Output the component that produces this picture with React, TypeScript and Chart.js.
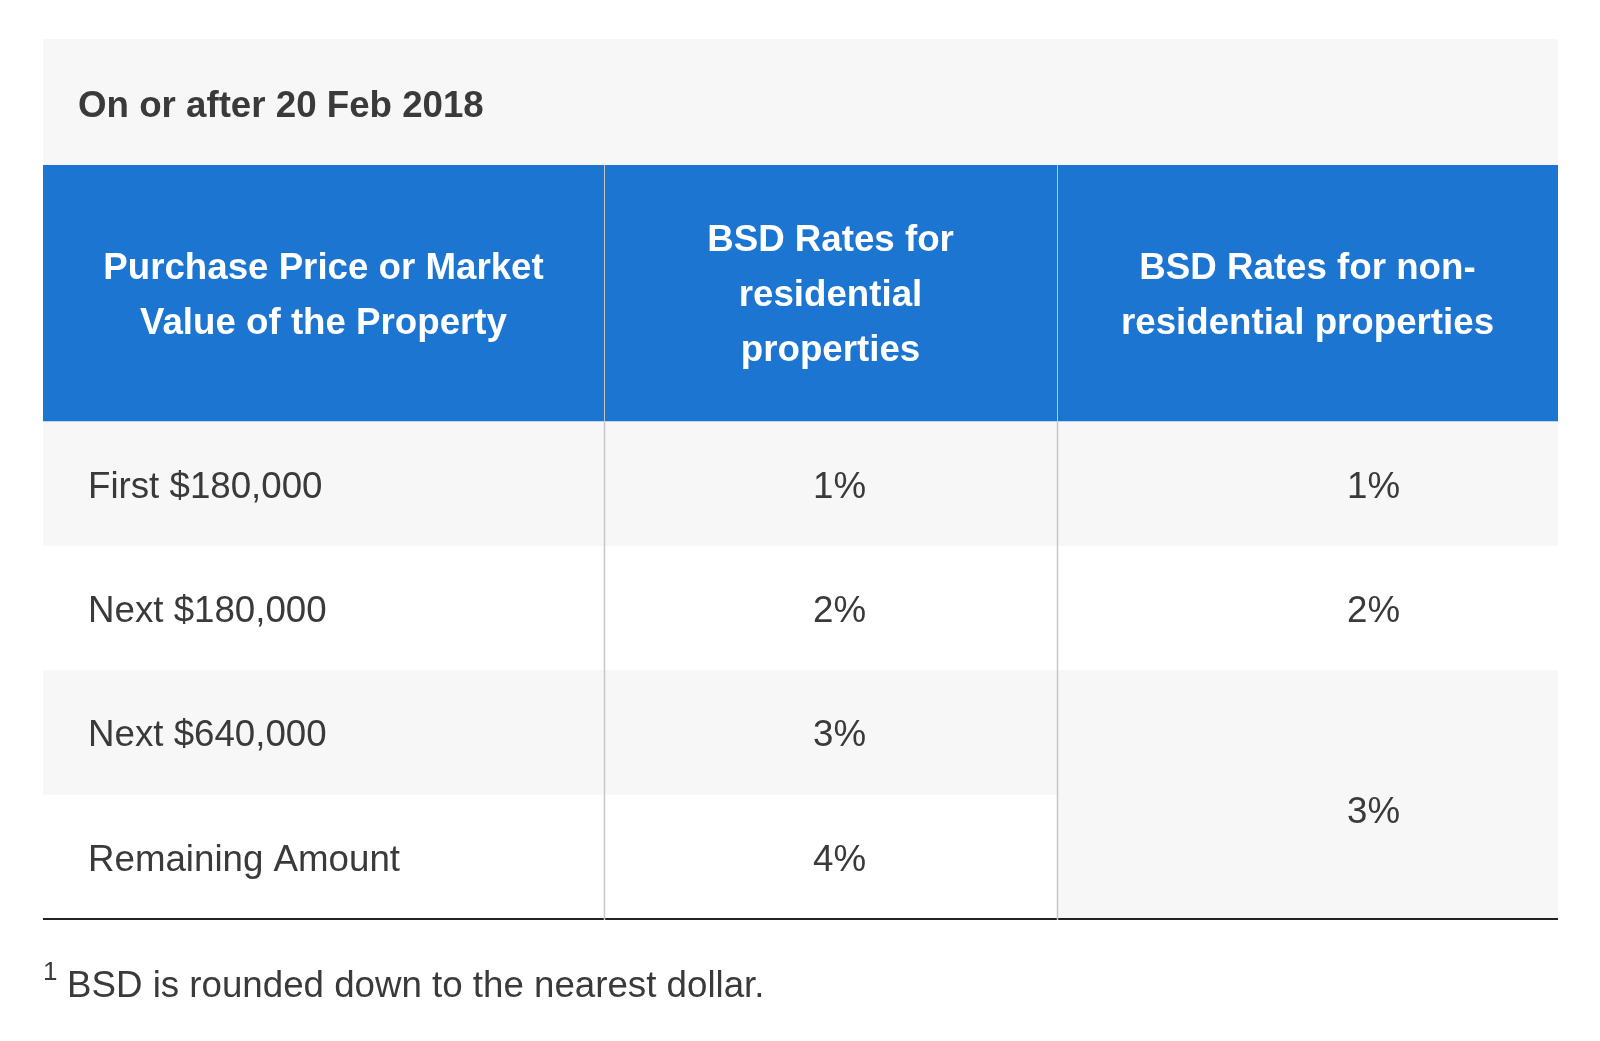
import React, { useEffect, useRef } from "react";
import { Chart, registerables } from "chart.js";

Chart.register(...registerables);

// ---- data ----
const title = "On or after 20 Feb 2018";
const headerCol1 = ["Purchase Price or Market", "Value of the Property"];
const headerCol2 = ["BSD Rates for", "residential", "properties"];
const headerCol3 = ["BSD Rates for non-", "residential properties"];
const bands = ["First $180,000", "Next $180,000", "Next $640,000", "Remaining Amount"];
const residentialRates = ["1%", "2%", "3%", "4%"];
const nonResidentialRates = ["1%", "2%", "3%"];
const nonResidentialSpans = [1, 1, 2];
const footnoteMark = "1";
const footnoteText = "BSD is rounded down to the nearest dollar.";

const FONT = '"Liberation Sans", Arial, Helvetica, sans-serif';
const FS = 36.7;
const TEXT = "#3a3a3a";
const BLUE = "#1c75d0";
const ROW_ALT = "#f7f7f7";

// column edges in table units (x scale)
const colEdges = [0, 561, 1014, 1515];

const tablePlugin = {
  id: "bsdTable",
  afterDraw(chart: any) {
    const ctx: CanvasRenderingContext2D = chart.ctx;
    const x = chart.scales.x;
    const y = chart.scales.y;
    const area = chart.chartArea;
    const L = x.getPixelForValue(colEdges[0]);
    const R = x.getPixelForValue(colEdges[3]);
    const c1 = x.getPixelForValue(colEdges[1]);
    const c2 = x.getPixelForValue(colEdges[2]);
    const band = (area.bottom - area.top) / bands.length;
    const panelTop = 39;
    const headTop = 165;
    const headBot = area.top;

    ctx.save();
    // panel
    ctx.fillStyle = ROW_ALT;
    ctx.fillRect(L, panelTop, R - L, area.bottom - panelTop);

    // title
    ctx.fillStyle = "#3a3a3a";
    ctx.font = `bold ${FS}px ${FONT}`;
    ctx.textAlign = "left";
    ctx.textBaseline = "alphabetic";
    ctx.fillText(title, L + 35, 117);

    // header
    ctx.fillStyle = BLUE;
    ctx.fillRect(L, headTop, R - L, headBot - headTop);
    ctx.fillStyle = "#ffffff";
    ctx.font = `bold ${FS}px ${FONT}`;
    ctx.textAlign = "center";
    const headMid = (headTop + headBot) / 2;
    const lh = 55;
    const drawHead = (lines: string[], cx: number) => {
      const start = headMid - ((lines.length - 1) * lh) / 2;
      lines.forEach((t, i) => ctx.fillText(t, cx, start + i * lh + 13));
    };
    drawHead(headerCol1, (L + c1) / 2);
    drawHead(headerCol2, (c1 + c2) / 2);
    drawHead(headerCol3, (c2 + R) / 2);

    // header dividers
    ctx.strokeStyle = "rgba(215,205,195,0.9)";
    ctx.lineWidth = 1;
    [c1, c2].forEach((cx) => {
      ctx.beginPath();
      ctx.moveTo(Math.round(cx) + 0.5, headTop);
      ctx.lineTo(Math.round(cx) + 0.5, headBot);
      ctx.stroke();
    });

    // body rows
    bands.forEach((label, i) => {
      const cy = y.getPixelForValue(i);
      const top = cy - band / 2;
      ctx.fillStyle = i % 2 === 0 ? ROW_ALT : "#ffffff";
      ctx.fillRect(L, top, c2 - L, band);
      ctx.fillStyle = TEXT;
      ctx.font = `${FS}px ${FONT}`;
      ctx.textAlign = "left";
      ctx.fillText(label, L + 45, cy + 14);
      ctx.textAlign = "center";
      ctx.fillText(residentialRates[i], (c1 + c2) / 2 + 9, cy + 14);
    });

    // non-residential column with row spans
    let r = 0;
    nonResidentialRates.forEach((val, k) => {
      const span = nonResidentialSpans[k];
      const top = y.getPixelForValue(r) - band / 2;
      const h = band * span;
      ctx.fillStyle = r % 2 === 0 ? ROW_ALT : "#ffffff";
      ctx.fillRect(c2, top, R - c2, h);
      const cy = top + h / 2;
      ctx.fillStyle = TEXT;
      ctx.font = `${FS}px ${FONT}`;
      ctx.textAlign = "center";
      ctx.fillText(val, (c2 + R) / 2 + 66, cy + 14 + (span > 1 ? 14 : 0));
      r += span;
    });

    // bottom border
    ctx.fillStyle = "#222222";
    ctx.fillRect(L, area.bottom - 1, R - L, 2);

    // body dividers
    ctx.strokeStyle = "#c6c6c6";
    ctx.lineWidth = 1.5;
    [c1, c2].forEach((cx) => {
      ctx.beginPath();
      ctx.moveTo(Math.round(cx) + 0.5, headBot);
      ctx.lineTo(Math.round(cx) + 0.5, area.bottom + 1);
      ctx.stroke();
    });

    // footnote
    ctx.fillStyle = TEXT;
    ctx.textAlign = "left";
    ctx.font = `26px ${FONT}`;
    ctx.fillText(footnoteMark, L, 980);
    ctx.font = `${FS}px ${FONT}`;
    ctx.fillText(footnoteText, L + 24, 997);
    ctx.restore();
  },
};

export default function App() {
  const ref = useRef<HTMLCanvasElement | null>(null);
  useEffect(() => {
    if (!ref.current) return;
    const chart = new Chart(ref.current, {
      type: "scatter",
      data: { labels: bands, datasets: [] },
      options: {
        animation: false,
        responsive: false,
        maintainAspectRatio: false,
        devicePixelRatio: 1,
        layout: { padding: { top: 421.5, bottom: 122, left: 43, right: 42 } },
        plugins: { legend: { display: false }, tooltip: { enabled: false }, title: { display: false } },
        scales: {
          x: { type: "linear", min: 0, max: 1515, offset: false, display: false },
          y: { type: "category", labels: bands, offset: true, display: false },
        },
      },
      plugins: [tablePlugin],
    } as any);
    return () => chart.destroy();
  }, []);
  return (
    <div style={{ position: "absolute", left: 0, top: 0, width: 1600, height: 1041, background: "#ffffff" }}>
      <canvas ref={ref} width={1600} height={1041} style={{ width: 1600, height: 1041, display: "block" }} />
    </div>
  );
}
